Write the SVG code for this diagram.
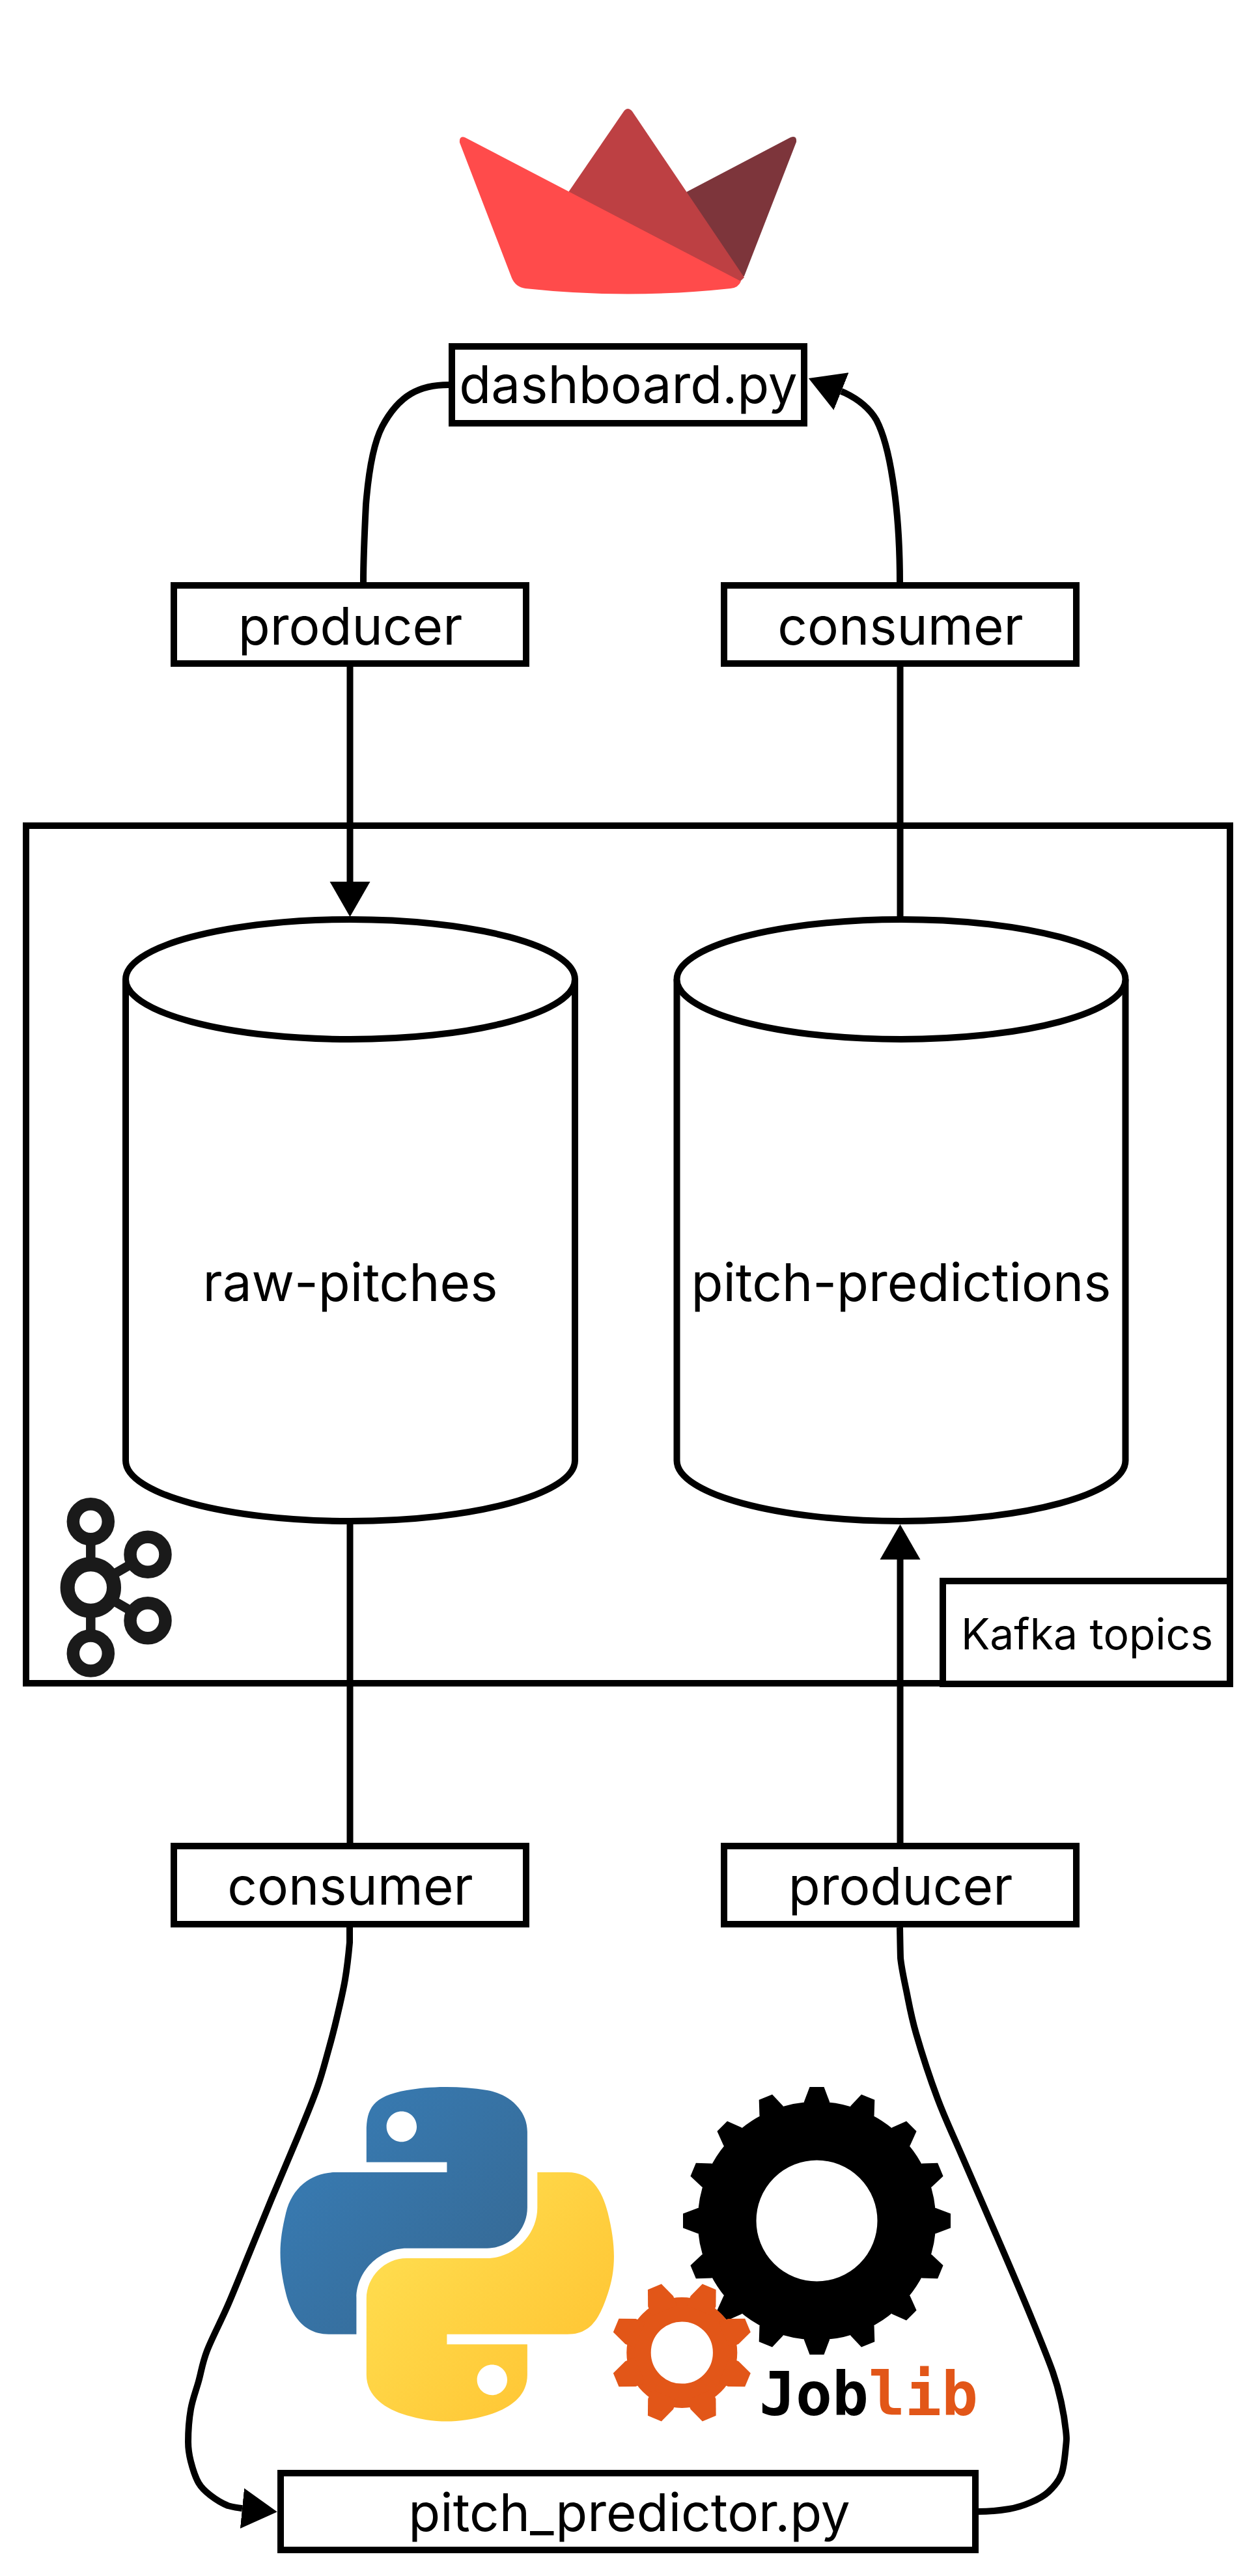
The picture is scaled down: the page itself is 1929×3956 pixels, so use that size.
<svg xmlns="http://www.w3.org/2000/svg" width="1929" height="3956" viewBox="0 0 1929 3956">
<style>
.box{fill:#fff;stroke:#000;stroke-width:10}
.conn{fill:none;stroke:#000;stroke-width:10}
.t{font-family:"Inter","Liberation Sans",sans-serif;font-size:80px;fill:#000;text-anchor:middle}
.ring{fill:#fff;stroke:#1a1a1a}
.kl{stroke:#1a1a1a;stroke-width:14.5}
.jl{font-family:"DejaVu Sans Mono",monospace;font-weight:bold;font-size:93px}
</style>
<defs>
<marker id="arrow" markerUnits="userSpaceOnUse" markerWidth="56" markerHeight="64" refX="0" refY="32" orient="auto"><path d="M0,1 L54,32 L0,63Z" fill="#000"/></marker>
<linearGradient id="pyb" gradientUnits="userSpaceOnUse" x1="0" y1="0" x2="80" y2="70"><stop offset="0" stop-color="#387EB8"/><stop offset="1" stop-color="#366994"/></linearGradient>
<linearGradient id="pyy" gradientUnits="userSpaceOnUse" x1="30" y1="40" x2="105" y2="105"><stop offset="0" stop-color="#FFE052"/><stop offset="1" stop-color="#FFC331"/></linearGradient>
<polygon id="tb" points="-11,-205.5 11,-205.5 19.5,-183 19.5,-170 -19.5,-170 -19.5,-183"/>
<polygon id="to" points="-11.3,-109.5 11.3,-109.5 21,-85.5 21,-70 -21,-70 -21,-85.5"/>
</defs>
<rect width="1929" height="3956" fill="#fff"/>
<g id="streamlit-logo">
<path fill="#7D353B" d="M1054,295 L1214,211 Q1224,207 1223,218 L1143,424 L1130,430Z"/>
<path fill="#BD4043" d="M873,295 L958,171 Q964,163 971,171 L1143,426 L1135,434Z"/>
<path fill="#FF4B4B" d="M714,211 L1138,432 Q1134,442 1122,443 Q964,460 807,443 Q792,441 786,427 L706,219 Q705,208 714,211Z"/>
</g>
<g id="connectors">
<path class="conn" d="M689,591 C645,591 613,606 587,655 C574,680 566,725 562,775 C560,815 558,860 558,894"/>
<path class="conn" marker-end="url(#arrow)" d="M1382,895 C1382,840 1378,780 1371,736 C1365,697 1358,668 1346,645 C1336,628 1318,613 1297,603 L1292,601"/>
<path class="conn" marker-end="url(#arrow)" d="M537.5,1024 L537.5,1354"/>
<path class="conn" d="M1382.5,1024 L1382.5,1408"/>
<path class="conn" d="M537.5,2339 L537.5,2830"/>
<path class="conn" marker-end="url(#arrow)" d="M1382.5,2830 L1382.5,2395"/>
<path class="conn" marker-end="url(#arrow)" d="M537,2960 L537,2983 C535.8,2996.3 533.3,3020.5 530,3040 C526.7,3059.5 521.3,3081.7 517,3100 C512.7,3118.3 509,3132.2 504,3150 C499,3167.8 494.7,3185.3 487,3207 C479.3,3228.7 469.7,3251.7 458,3280 C446.3,3308.3 429.5,3347 417,3377 C404.5,3407 394.2,3432.8 383,3460 C371.8,3487.2 360.8,3515 350,3540 C339.2,3565 325.5,3590.5 318,3610 C310.5,3629.5 309.2,3642 305,3657 C300.8,3672 295.7,3684.5 293,3700 C290.3,3715.5 289,3736.7 289,3750 C289,3763.3 290.3,3769.5 293,3780 C295.7,3790.5 300,3804.3 305,3813 C310,3821.7 315.5,3826.2 323,3832 C330.5,3837.8 341.8,3844.7 350,3848 C358,3850 366,3851.5 371,3852 L372,3852.1"/>
<path class="conn" d="M1382,2960 C1382.2,2967.8 1382.5,2990.8 1383,3007 C1384.7,3023.2 1388,3037.7 1392,3057 C1396,3076.3 1399,3095.3 1407,3123 C1415,3150.7 1428.3,3191.8 1440,3223 C1451.7,3254.2 1460,3270.5 1477,3310 C1494,3349.5 1524.3,3418.8 1542,3460 C1559.7,3501.2 1570.5,3526.5 1583,3557 C1595.5,3587.5 1609.2,3620.8 1617,3643 C1624.8,3665.2 1626.7,3675 1630,3690 C1633.3,3705 1635.8,3721.8 1637,3733 C1638.2,3744.2 1638.2,3745.8 1637,3757 C1635.8,3768.2 1634.5,3788.3 1630,3800 C1625.5,3811.7 1617.8,3819.8 1610,3827 C1602.2,3834.2 1593,3838.7 1583,3843 C1573,3847.3 1563.3,3850.7 1550,3853 C1536.7,3855.3 1520,3857 1503,3857"/>
</g>
<g id="dashboard"><rect class="box" x="694" y="532" width="541" height="118"/><text class="t" x="965" y="619">dashboard.py</text></g>
<g id="producer-top"><rect class="box" x="267" y="899" width="541" height="120"/><text class="t" x="538" y="990">producer</text></g>
<g id="consumer-top"><rect class="box" x="1112" y="899" width="541" height="120"/><text class="t" x="1383" y="990">consumer</text></g>
<g id="kafka-topics"><rect x="40" y="1268" width="1849" height="1317" fill="none" stroke="#000" stroke-width="10"/></g>
<g id="raw-pitches">
<path class="box" d="M193,1504 L193,2243 C193,2294 347,2336 538,2336 C729,2336 883,2294 883,2243 L883,1504"/>
<ellipse class="box" cx="538" cy="1504" rx="345" ry="92"/>
<text class="t" x="538" y="1998">raw-pitches</text>
</g>
<g id="pitch-predictions">
<path class="box" d="M1039.5,1504 L1039.5,2243 C1039.5,2294 1193,2336 1384,2336 C1575,2336 1728.5,2294 1728.5,2243 L1728.5,1504"/>
<ellipse class="box" cx="1384" cy="1504" rx="344.5" ry="92"/>
<text class="t" x="1384" y="1998">pitch-predictions</text>
</g>
<g id="kafka-label"><rect class="box" x="1448" y="2428" width="441" height="158"/><text class="t" x="1669.5" y="2533" style="font-size:66px">Kafka topics</text></g>
<g id="kafka-logo">
<line class="kl" x1="139.3" y1="2337" x2="139.3" y2="2539"/>
<line class="kl" x1="139.3" y1="2438" x2="227" y2="2387.3"/>
<line class="kl" x1="139.3" y1="2438" x2="227" y2="2488.7"/>
<circle class="ring" cx="139.3" cy="2336.7" r="27" stroke-width="19.5"/>
<circle class="ring" cx="227" cy="2387.3" r="27" stroke-width="19.5"/>
<circle class="ring" cx="227" cy="2488.7" r="27" stroke-width="19.5"/>
<circle class="ring" cx="139.3" cy="2539" r="27" stroke-width="19.5"/>
<circle class="ring" cx="139.3" cy="2438" r="35.7" stroke-width="22"/>
</g>
<g id="consumer-bottom"><rect class="box" x="267" y="2835" width="541" height="120"/><text class="t" x="538" y="2925">consumer</text></g>
<g id="producer-bottom"><rect class="box" x="1112" y="2835" width="541" height="120"/><text class="t" x="1383" y="2925">producer</text></g>
<g id="python-logo" transform="translate(430.5,3205) scale(4.61,4.57)">
<path fill="url(#pyb)" fill-rule="evenodd" d="M54.919,0 C50.335,0.022 45.958,0.413 42.106,1.095 C30.760,3.099 28.700,7.295 28.700,15.032 L28.700,25.251 L55.513,25.251 L55.513,28.657 L18.638,28.657 C10.845,28.657 4.022,33.341 1.888,42.251 C-0.574,52.463 -0.683,58.836 1.888,69.501 C3.793,77.439 8.345,83.095 16.138,83.095 L25.356,83.095 L25.356,70.845 C25.356,61.995 33.013,54.188 42.106,54.188 L68.888,54.188 C76.342,54.188 82.294,48.049 82.294,40.563 L82.294,15.032 C82.294,7.766 76.164,2.306 68.888,1.094 C64.282,0.328 59.502,-0.023 54.919,0 Z M40.419,8.219 C43.188,8.219 45.450,10.518 45.450,13.344 C45.450,16.160 43.188,18.438 40.419,18.438 C37.640,18.438 35.388,16.160 35.388,13.344 C35.388,10.518 37.640,8.219 40.419,8.219 Z"/>
<path fill="url(#pyy)" fill-rule="evenodd" d="M85.638,28.657 L85.638,40.563 C85.638,49.793 77.811,57.563 68.888,57.563 L42.106,57.563 C34.771,57.563 28.700,63.840 28.700,71.188 L28.700,96.719 C28.700,103.985 35.018,108.259 42.106,110.344 C50.593,112.839 58.732,113.290 68.888,110.344 C75.637,108.389 82.294,104.456 82.294,96.719 L82.294,86.501 L55.513,86.501 L55.513,83.095 L95.700,83.095 C103.493,83.095 106.396,77.659 109.106,69.501 C111.905,61.101 111.786,53.024 109.106,42.251 C107.180,34.493 103.502,28.657 95.700,28.657 Z M70.575,93.313 C73.354,93.313 75.606,95.588 75.606,98.407 C75.606,101.236 73.354,103.532 70.575,103.532 C67.805,103.532 65.544,101.236 65.544,98.407 C65.544,95.588 67.805,93.313 70.575,93.313 Z"/>
</g>
<g id="joblib-logo">
<g transform="translate(1254.5,3410.5)" fill="#000">
<circle r="138" fill="none" stroke="#000" stroke-width="90"/>
<use href="#tb"/><use href="#tb" transform="rotate(22.5)"/><use href="#tb" transform="rotate(45)"/><use href="#tb" transform="rotate(67.5)"/><use href="#tb" transform="rotate(90)"/><use href="#tb" transform="rotate(112.5)"/><use href="#tb" transform="rotate(135)"/><use href="#tb" transform="rotate(157.5)"/><use href="#tb" transform="rotate(180)"/><use href="#tb" transform="rotate(202.5)"/><use href="#tb" transform="rotate(225)"/><use href="#tb" transform="rotate(247.5)"/><use href="#tb" transform="rotate(270)"/><use href="#tb" transform="rotate(292.5)"/><use href="#tb" transform="rotate(315)"/><use href="#tb" transform="rotate(337.5)"/>
</g>
<g transform="translate(1047.3,3613)" fill="#E25618">
<circle r="66.3" fill="none" stroke="#E25618" stroke-width="37.4"/>
<use href="#to" transform="rotate(22.5)"/><use href="#to" transform="rotate(67.5)"/><use href="#to" transform="rotate(112.5)"/><use href="#to" transform="rotate(157.5)"/><use href="#to" transform="rotate(202.5)"/><use href="#to" transform="rotate(247.5)"/><use href="#to" transform="rotate(292.5)"/><use href="#to" transform="rotate(337.5)"/>
</g>
<text class="jl" x="1166" y="3709" fill="#000">Job<tspan fill="#E25618">lib</tspan></text>
</g>
<g id="pitch-predictor"><rect class="box" x="431" y="3798" width="1067" height="118"/><text class="t" x="966.5" y="3887">pitch_predictor.py</text></g>
</svg>
